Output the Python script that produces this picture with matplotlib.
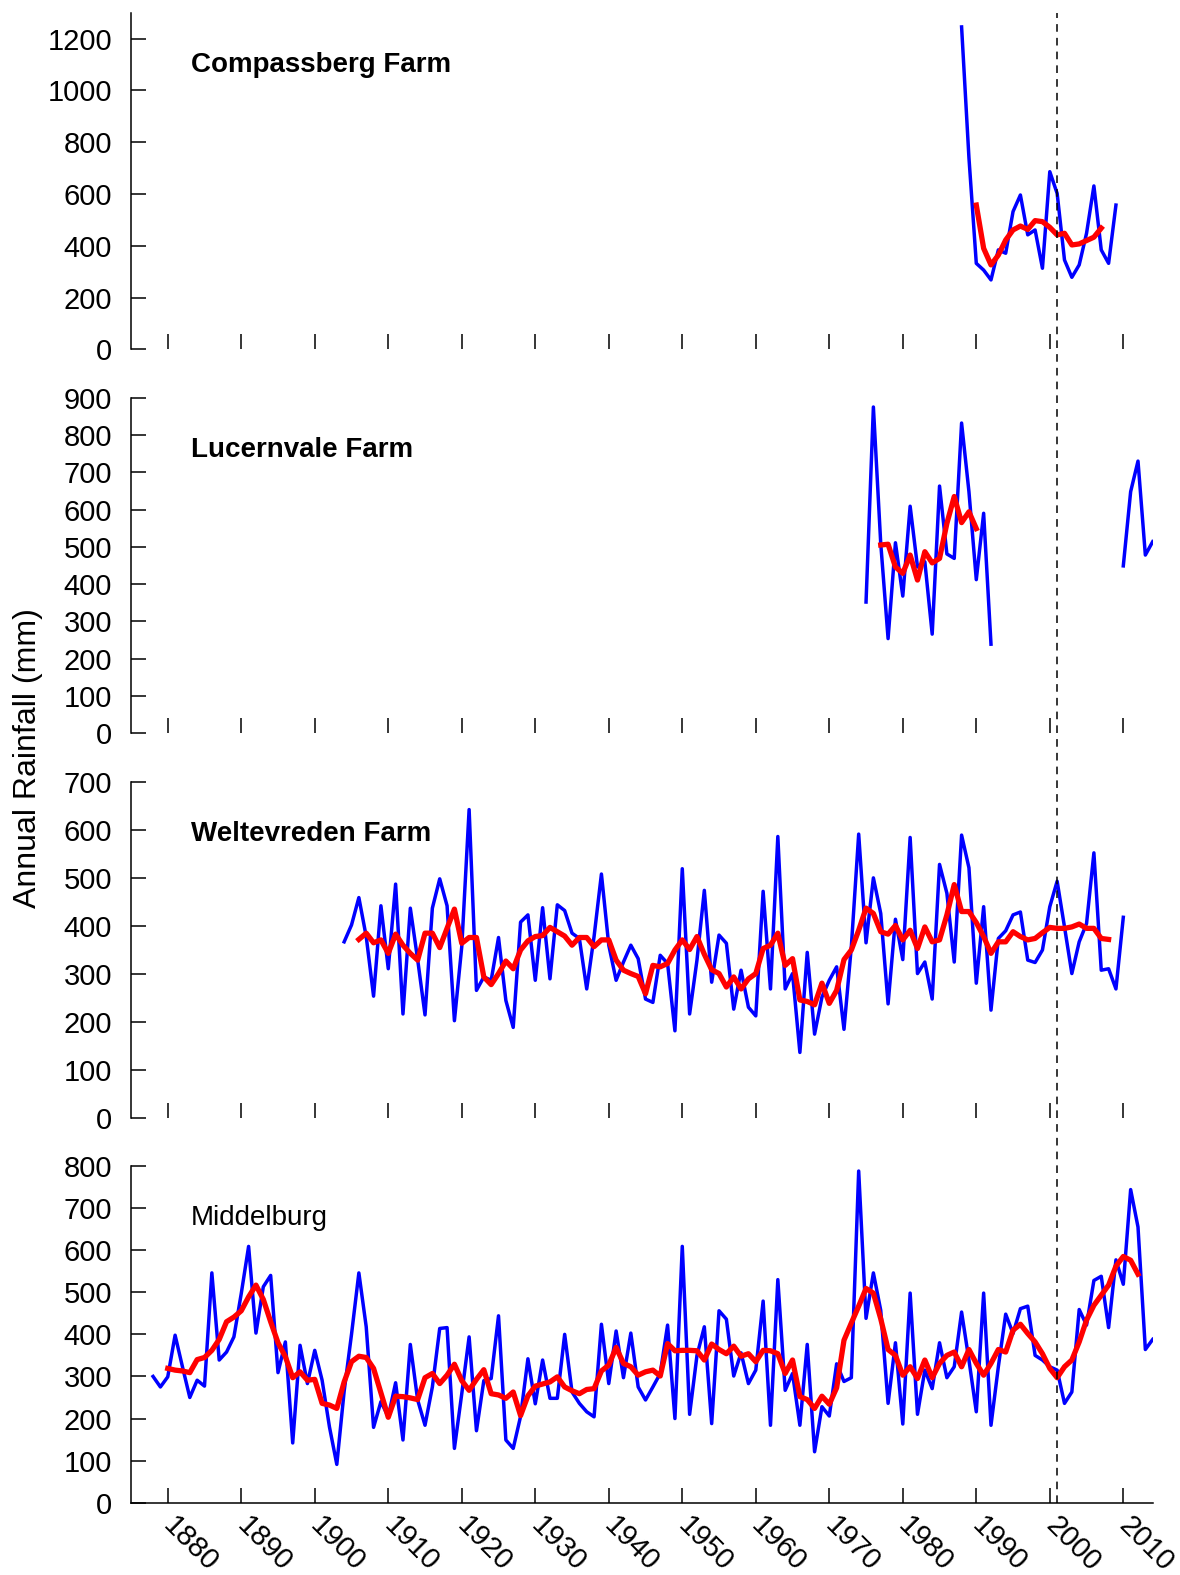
import numpy as np
import matplotlib
matplotlib.use("Agg")
import matplotlib.pyplot as plt
from matplotlib.lines import Line2D
from matplotlib.transforms import blended_transform_factory

plt.rcParams['font.family'] = ['Liberation Sans', 'DejaVu Sans']

# ---- data (annual rainfall, mm) ----
compass_years = np.arange(1988, 2010)
compass_rain = [1245, 740, 332, 306, 268, 384, 371, 532, 596, 442, 461, 313,
                686, 602, 345, 278, 326, 448, 631, 384, 332, 557]
compass_smooth_years = np.arange(1990, 2008)
compass_smooth = [557, 390, 326, 364, 422, 461, 476, 463, 497, 493, 471, 442,
                  448, 403, 407, 420, 433, 468]

lucern_years = np.arange(1975, 2015)
lucern_rain = [352, 875, 509, 254, 511, 368, 609, 446, 460, 266, 663, 481, 469,
               832, 648, 412, 590, 239] + [np.nan] * 17 + [449, 648, 730, 478, 514]
lucern_smooth_years = np.arange(1977, 1991)
lucern_smooth = [505, 507, 446, 429, 478, 411, 487, 457, 469, 563, 635, 565, 594, 549]

welte_years = np.arange(1904, 2011)
welte_rain = [367, 402, 459, 378, 254, 442, 311, 487, 217, 437, 330, 215, 437, 498,
              442, 203, 357, 642, 266, 294, 287, 376, 245, 189, 408, 423, 287, 438,
              290, 444, 432, 385, 374, 269, 378, 508, 360, 287, 325, 360, 332, 248,
              241, 339, 322, 182, 519, 217, 329, 474, 283, 381, 364, 227, 308, 231,
              213, 472, 269, 586, 269, 301, 137, 345, 175, 252, 287, 315, 185, 357,
              591, 365, 500, 426, 238, 414, 330, 584, 301, 325, 248, 528, 468, 325,
              589, 521, 281, 440, 225, 374, 390, 423, 429, 329, 324, 350, 440, 493,
              398, 301, 367, 405, 552, 308, 311, 269, 418]
welte_smooth_years = np.arange(1906, 2009)
welte_smooth = [372, 385, 365, 371, 343, 383, 360, 343, 329, 385, 385, 355, 395, 435,
                364, 376, 376, 294, 278, 301, 327, 311, 350, 369, 378, 380, 397, 388,
                379, 360, 376, 376, 357, 371, 371, 329, 308, 301, 295, 259, 318, 315,
                322, 350, 371, 351, 378, 341, 309, 301, 273, 294, 269, 290, 301, 353,
                360, 385, 318, 332, 246, 243, 236, 281, 239, 266, 330, 350, 391, 437,
                426, 388, 383, 401, 371, 391, 353, 398, 367, 371, 423, 486, 430, 430,
                407, 378, 343, 367, 367, 388, 378, 371, 374, 386, 397, 395, 395, 398,
                404, 395, 395, 374, 372]

middel_years = np.arange(1878, 2015)
middel_rain = [300, 275, 299, 398, 323, 250, 291, 277, 546, 339, 358, 394, 497, 609,
               403, 513, 540, 309, 382, 142, 374, 283, 362, 291, 180, 91, 265, 400,
               546, 418, 179, 240, 204, 285, 149, 376, 244, 184, 275, 414, 416, 129,
               259, 394, 171, 290, 295, 444, 149, 129, 205, 342, 235, 339, 248, 248,
               400, 263, 236, 216, 204, 424, 283, 408, 297, 403, 275, 244, 275, 307,
               422, 200, 609, 210, 350, 418, 188, 456, 436, 301, 356, 283, 315, 479,
               184, 530, 267, 307, 184, 376, 121, 228, 206, 330, 288, 297, 788, 438,
               546, 457, 236, 380, 187, 498, 210, 315, 271, 380, 297, 323, 453, 339,
               216, 498, 184, 323, 448, 402, 461, 467, 350, 339, 323, 315, 236, 263,
               459, 422, 528, 538, 416, 577, 519, 744, 655, 364, 388]
middel_smooth_years = np.arange(1880, 2013)
middel_smooth = [319, 315, 313, 309, 340, 345, 362, 388, 430, 441, 456, 489, 517, 483,
                 430, 380, 347, 297, 311, 291, 293, 236, 232, 224, 287, 335, 348, 345,
                 319, 261, 203, 253, 252, 249, 245, 297, 307, 283, 303, 329, 290, 267,
                 293, 316, 259, 256, 248, 263, 207, 254, 277, 282, 287, 299, 275, 266,
                 259, 269, 271, 313, 327, 369, 331, 323, 303, 311, 315, 301, 378, 361,
                 362, 362, 361, 339, 377, 364, 354, 372, 348, 354, 335, 362, 361, 354,
                 307, 339, 252, 245, 224, 253, 234, 273, 386, 427, 467, 509, 498, 437,
                 364, 350, 303, 323, 295, 339, 297, 331, 350, 358, 323, 364, 331, 303,
                 331, 364, 358, 410, 424, 402, 382, 354, 319, 297, 323, 339, 382, 434,
                 469, 493, 517, 562, 585, 576, 543]

panels = [
    ("Compassberg Farm", "bold", compass_years, compass_rain,
     compass_smooth_years, compass_smooth, 1300, np.arange(0, 1201, 200)),
    ("Lucernvale Farm", "bold", lucern_years, lucern_rain,
     lucern_smooth_years, lucern_smooth, 900, np.arange(0, 901, 100)),
    ("Weltevreden Farm", "bold", welte_years, welte_rain,
     welte_smooth_years, welte_smooth, 700, np.arange(0, 701, 100)),
    ("Middelburg", "normal", middel_years, middel_rain,
     middel_smooth_years, middel_smooth, 800, np.arange(0, 801, 100)),
]
decade_ticks = np.arange(1880, 2011, 10)
break_year = 2001

# ---- layout in pixels (figure is 1180 x 1575) ----
W, H = 1180, 1575
left_px, right_px = 131, 1152.7
panel_px = [(12.7, 349.3), (397.7, 733.3), (781.7, 1118.3), (1166.0, 1502.7)]

fig = plt.figure(figsize=(W / 100, H / 100), dpi=100)
axes = []
for i, (name, weight, yrs, rain, syrs, smooth, ytop, yticks) in enumerate(panels):
    top, bot = panel_px[i]
    ax = fig.add_axes([left_px / W, 1 - bot / H, (right_px - left_px) / W, (bot - top) / H])
    ax.plot(yrs, rain, color="#0000ff", linewidth=2.5)
    ax.plot(syrs, smooth, color="#ff0000", linewidth=3.8)
    ax.set_xlim(1875, 2014)
    ax.set_ylim(0, ytop)
    ax.set_yticks(yticks)
    ax.set_xticks(decade_ticks)
    for side in ("top", "right"):
        ax.spines[side].set_visible(False)
    ax.spines["left"].set_linewidth(1.1)
    ax.spines["bottom"].set_linewidth(1.1)
    last = i == len(panels) - 1
    if not last:
        ax.spines["bottom"].set_visible(False)
    ax.tick_params(axis="both", direction="in", length=10.5, width=1.1,
                   labelsize=21, pad=13.5)
    ax.tick_params(axis="x", labelbottom=last)
    ax.text(0.0584, 0.824, name, transform=ax.transAxes, fontsize=20,
            fontweight=weight, ha="left", va="baseline")
    axes.append(ax)

bottom_ax = axes[-1]
for lab in bottom_ax.get_xticklabels():
    lab.set_rotation(-45)
    lab.set_ha("left")
    lab.set_va("center")
    lab.set_rotation_mode("anchor")

# dashed marker line running through all panels
trans = blended_transform_factory(bottom_ax.transData, fig.transFigure)
fig.add_artist(Line2D([break_year, break_year],
                      [1 - panel_px[-1][1] / H, 1 - panel_px[0][0] / H],
                      transform=trans, color="black", linewidth=1.1,
                      linestyle=(0, (5.0, 4.0))))

fig.text(28 / W, 1 - 758 / H, "Annual Rainfall (mm)", rotation=90,
         ha="center", va="center", fontsize=23)

fig.savefig("out.png", dpi=100)
